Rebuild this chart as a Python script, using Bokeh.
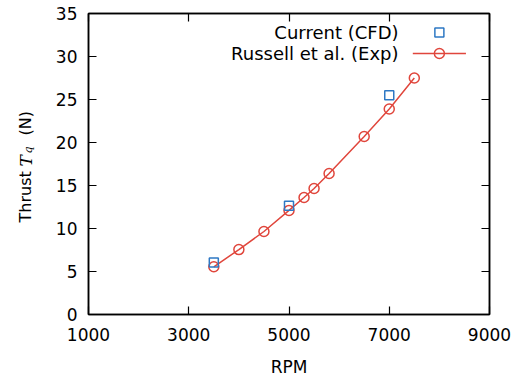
import math
from bokeh.plotting import figure
from bokeh.layouts import row
from bokeh.models import Range1d, LinearAxis, FixedTicker, Label
from bokeh.embed import file_html
from bokeh.resources import INLINE

# ---- data ----
rpm_exp = [3500, 4000, 4500, 5000, 5300, 5500, 5800, 6500, 7000, 7500]
thrust_exp = [5.55, 7.55, 9.65, 12.1, 13.6, 14.65, 16.4, 20.7, 23.9, 27.5]
rpm_cfd = [3500, 5000, 7000]
thrust_cfd = [6.05, 12.65, 25.5]
x_ticks = [1000, 3000, 5000, 7000, 9000]
y_ticks = [0, 5, 10, 15, 20, 25, 30, 35]
legend_labels = ["Current (CFD)", "Russell et al. (Exp)"]

RED = "#e0463c"
BLUE = "#2e78c4"
FONT = "DejaVu Sans"
FS = "17px"
LEG_FS = "18px"

W, H = 516, 384
LW = 44            # width of the strip holding the y-axis title
B_TOP, B_BOT = 13, 70

# ---- strip with the y-axis title "Thrust T_q (N)" (pixel-like coordinates) ----
lab = figure(width=LW, height=H, output_backend="svg", toolbar_location=None,
             x_range=Range1d(0, LW), y_range=Range1d(B_BOT, H - B_TOP),
             x_axis_location=None, y_axis_location=None,
             min_border_left=0, min_border_right=0,
             min_border_top=B_TOP, min_border_bottom=B_BOT)
lab.grid.visible = False
lab.outline_line_color = None
lab.background_fill_color = "white"
lab.border_fill_color = "white"
ang = math.pi / 2
BASE = 25
parts = [
    ("Thrust", BASE, H - 222, FONT, "normal", "16px"),
    ("T", BASE, H - 166, "DejaVu Serif", "italic", "17px"),
    ("q", BASE + 3, H - 153, "DejaVu Serif", "italic", "11px"),
    ("(N)", BASE, H - 135, FONT, "normal", "16px"),
]
for txt, xx, yy, fnt, sty, fs in parts:
    lab.add_layout(Label(x=xx, y=yy, text=txt, angle=ang, text_align="left",
                         text_baseline="alphabetic", text_font=fnt, text_color="black",
                         text_font_style=sty, text_font_size=fs))

# ---- main plot ----
p = figure(width=W - LW, height=H, output_backend="svg", toolbar_location=None,
           x_range=Range1d(1000, 9000), y_range=Range1d(0, 35),
           min_border_left=88 - LW, min_border_right=27,
           min_border_top=B_TOP, min_border_bottom=B_BOT)
p.background_fill_color = "white"
p.border_fill_color = "white"
p.grid.visible = False
p.outline_line_color = "black"
p.outline_line_width = 1.5

def style_axis(ax, labels=True):
    ax.major_tick_in = 8
    ax.major_tick_out = 0
    ax.minor_tick_in = 0
    ax.minor_tick_out = 0
    ax.axis_line_color = "black"
    ax.axis_line_width = 1.5
    ax.major_tick_line_color = "black"
    ax.major_tick_line_width = 1.2
    ax.major_label_text_font = FONT
    ax.major_label_text_font_size = FS if labels else "0px"
    ax.major_label_text_color = "black" if labels else None
    ax.axis_label_text_font = FONT
    ax.axis_label_text_font_size = FS
    ax.axis_label_text_font_style = "normal"
    ax.axis_label_text_color = "black"

xax = p.xaxis[0]
xax.ticker = FixedTicker(ticks=x_ticks)
style_axis(xax)
xax.major_label_standoff = 13
xax.axis_label = "RPM"
xax.axis_label_standoff = 13

yax = p.yaxis[0]
yax.ticker = FixedTicker(ticks=y_ticks)
style_axis(yax)
yax.major_label_standoff = 11

top = LinearAxis(ticker=FixedTicker(ticks=x_ticks))
style_axis(top, labels=False)
p.add_layout(top, "above")
right = LinearAxis(ticker=FixedTicker(ticks=y_ticks))
style_axis(right, labels=False)
p.add_layout(right, "right")

# data
p.line(rpm_exp, thrust_exp, line_color=RED, line_width=1.5)
p.scatter(rpm_exp, thrust_exp, marker="circle", size=10, fill_color=None,
          line_color=RED, line_width=1.5)
p.scatter(rpm_cfd, thrust_cfd, marker="square", size=9, fill_color=None,
          line_color=BLUE, line_width=1.5)

# legend (gnuplot style: text right-aligned, sample to the right)
LEG_TEXT_X = 7185
LEG_SAMPLE_X = 8000
LEG_LINE_X = [7470, 8530]
LEG_Y = [32.8, 30.35]
for txt, ly in zip(legend_labels, LEG_Y):
    p.add_layout(Label(x=LEG_TEXT_X, y=ly, text=txt, text_align="right", text_color="black",
                       text_baseline="middle", text_font=FONT, text_font_size=LEG_FS))
p.scatter([LEG_SAMPLE_X], [LEG_Y[0]], marker="square", size=9, fill_color=None,
          line_color=BLUE, line_width=1.5)
p.line(LEG_LINE_X, [LEG_Y[1], LEG_Y[1]], line_color=RED, line_width=1.5)
p.scatter([LEG_SAMPLE_X], [LEG_Y[1]], marker="circle", size=10, fill_color=None,
          line_color=RED, line_width=1.5)

layout = row(lab, p, spacing=0)
open("out.html", "w").write(file_html(layout, INLINE))
